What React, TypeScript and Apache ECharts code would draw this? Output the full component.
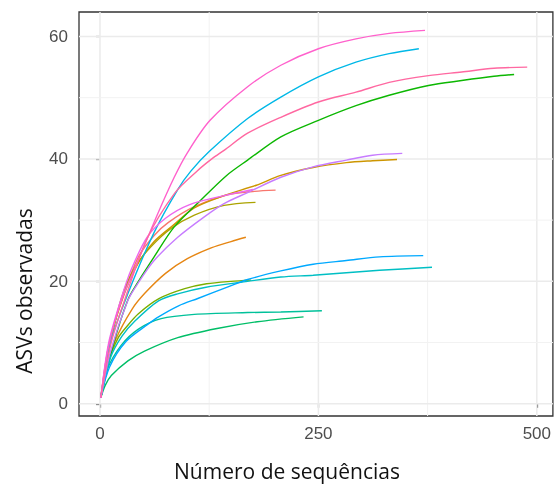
import React, { useEffect, useRef } from "react";
import * as echarts from "echarts";

// Axis ticks and grid values
const xTicks = [0, 250, 500];
const xGrid = [0, 125, 250, 375, 500];
const yTicks = [0, 20, 40, 60];
const yGrid = [0, 10, 20, 30, 40, 50, 60];

// Rarefaction curves: [number of sequences, observed ASVs]
const sSalmon = [[1, 1], [10, 9.5], [25, 17], [44, 24], [62, 27.5], [78, 29.6], [108, 32.2], [145, 34.1], [177, 34.7], [201, 34.9]];
const sOrange = [[1, 1], [8, 6], [18, 10.5], [37, 15.5], [51, 18], [75, 21.3], [100, 23.7], [128, 25.5], [150, 26.5], [167, 27.2]];
const sGolden = [[1, 1], [12, 10.5], [28, 18], [44, 23], [62, 26.5], [85, 29.3], [108, 32], [142, 34], [179, 35.7], [207, 37.3], [244, 38.6], [282, 39.4], [312, 39.7], [340, 39.9]];
const sOlive = [[1, 1], [12, 10], [25, 17.5], [40, 22.3], [58, 25.6], [81, 28.6], [108, 30.8], [142, 32.4], [178, 32.9]];
const sYellowGreen = [[1, 1], [10, 7], [21, 10.8], [30, 12.5], [44, 14.7], [68, 17.2], [97, 18.8], [122, 19.6], [150, 20], [173, 20.2]];
const sGreen = [[1, 1], [15, 9.5], [32, 17], [44, 20], [62, 24], [85, 28.9], [115, 33.2], [145, 37.3], [169, 39.8], [207, 43.6], [250, 46.3], [293, 48.7], [331, 50.4], [376, 52], [414, 52.8], [451, 53.5], [474, 53.8]];
const sGreen2 = [[1, 1], [6, 3], [13, 4.6], [32, 7], [51, 8.6], [89, 10.8], [134, 12.3], [180, 13.4], [233, 14.2]];
const sTeal = [[1, 1], [8, 5.5], [24, 9.5], [44, 12.2], [70, 13.9], [108, 14.6], [169, 14.9], [207, 15], [254, 15.2]];
const sCyan = [[1, 1], [12, 7.5], [25, 11], [40, 13.5], [67, 16.8], [90, 18], [120, 19], [169, 20], [207, 20.7], [244, 21], [282, 21.4], [320, 21.8], [380, 22.3]];
const sSky = [[1, 1], [12, 10], [32, 18], [62, 28], [89, 35], [104, 38], [125, 41.2], [169, 46.6], [207, 50.1], [250, 53.4], [293, 55.8], [331, 57.2], [365, 58]];
const sBlue = [[1, 1], [11, 6], [30, 10.2], [55, 13], [67, 14.2], [90, 16], [112, 17.2], [145, 19], [169, 20.3], [207, 21.7], [244, 22.8], [282, 23.4], [320, 24], [370, 24.2]];
const sPurple = [[1, 1], [12, 8.5], [32, 16.9], [44, 19.8], [62, 23.4], [89, 27.2], [119, 30.5], [142, 32.7], [169, 34.5], [207, 37], [244, 38.7], [282, 39.8], [312, 40.6], [346, 40.9]];
const sViolet = [[1, 1], [10, 10], [25, 17.5], [36, 22], [54, 27.2], [75, 30.3], [102, 32.5], [142, 34], [175, 35]];
const sMagenta = [[1, 1], [10, 9.5], [25, 17], [44, 23.5], [66, 31], [85, 37], [100, 41], [126, 46.3], [169, 51.8], [207, 55.3], [250, 58], [293, 59.6], [331, 60.5], [372, 61]];
const sPink = [[1, 1], [12, 9.5], [26, 16], [54, 27], [86, 34.5], [111, 38], [128, 40], [142, 41.4], [169, 44.2], [207, 46.8], [250, 49.3], [293, 50.9], [331, 52.5], [376, 53.6], [414, 54.2], [451, 54.8], [489, 55]];

const curves = [sSalmon, sOrange, sGolden, sOlive, sYellowGreen, sGreen, sGreen2, sTeal, sCyan, sSky, sBlue, sPurple, sViolet, sMagenta, sPink];
const curveColors = ["#F8766D", "#E68613", "#CD9600", "#ABA300", "#7CAE00", "#0CB702", "#00BE67", "#00C19A", "#00BFC4", "#00B8E7", "#00A9FF", "#C77CFF", "#ED68ED", "#FF61CC", "#FF68A1"];

const X_MIN = -24;
const X_MAX = 518.4;
const Y_MIN = -2;
const Y_MAX = 64;

export default function App() {
  const ref = useRef<HTMLDivElement>(null);

  useEffect(() => {
    if (!ref.current) return;
    const chart = echarts.init(ref.current, null, { renderer: "svg" });

    const gridSeries: any[] = [];
    xGrid.forEach((v) => {
      const major = xTicks.includes(v);
      gridSeries.push({
        type: "line",
        data: [[v, Y_MIN], [v, Y_MAX]],
        symbol: "none",
        silent: true,
        z: 1,
        lineStyle: { color: major ? "#EBEBEB" : "#F2F2F2", width: major ? 1.5 : 1 },
      });
    });
    yGrid.forEach((v) => {
      const major = yTicks.includes(v);
      gridSeries.push({
        type: "line",
        data: [[X_MIN, v], [X_MAX, v]],
        symbol: "none",
        silent: true,
        z: 1,
        lineStyle: { color: major ? "#EBEBEB" : "#F2F2F2", width: major ? 1.5 : 1 },
      });
    });

    const curveSeries = curves.map((d, i) => ({
      type: "line",
      data: d,
      symbol: "none",
      smooth: 0.3,
      z: 2,
      lineStyle: { color: curveColors[i], width: 1.4 },
    }));

    const labelFont = "'Liberation Sans', Arial, sans-serif";
    const titleFont = "'Open Sans', sans-serif";

    chart.setOption({
      animation: false,
      grid: {
        left: 79,
        top: 12,
        width: 480,
        height: 404,
        show: true,
        backgroundColor: "#FFFFFF",
        borderColor: "#333333",
        borderWidth: 1.3,
      },
      xAxis: {
        type: "value",
        min: X_MIN,
        max: X_MAX,
        axisLine: { show: false },
        splitLine: { show: false },
        axisTick: { show: true, customValues: xTicks, length: 4, lineStyle: { color: "#333333", width: 1.2 } },
        axisLabel: { customValues: xTicks, color: "#4D4D4D", fontSize: 17, margin: 9, fontFamily: labelFont },
      },
      yAxis: {
        type: "value",
        min: Y_MIN,
        max: Y_MAX,
        axisLine: { show: false },
        splitLine: { show: false },
        axisTick: { show: true, customValues: yTicks, length: 4, lineStyle: { color: "#333333", width: 1.2 } },
        axisLabel: { customValues: yTicks, color: "#4D4D4D", fontSize: 17, margin: 11, fontFamily: labelFont },
      },
      graphic: [
        {
          type: "text",
          x: 287,
          y: 471,
          style: {
            text: "Número de sequências",
            fontSize: 21,
            fontFamily: titleFont,
            fill: "#111111",
            textAlign: "center",
            textVerticalAlign: "middle",
          },
        },
        {
          type: "text",
          x: 24,
          y: 291,
          rotation: Math.PI / 2,
          style: {
            text: "ASVs observadas",
            fontSize: 21,
            fontFamily: titleFont,
            fill: "#111111",
            textAlign: "center",
            textVerticalAlign: "middle",
          },
        },
      ],
      series: [...gridSeries, ...curveSeries],
    });

    return () => chart.dispose();
  }, []);

  return <div ref={ref} style={{ position: "fixed", left: 0, top: 0, width: 554, height: 484 }} />;
}
